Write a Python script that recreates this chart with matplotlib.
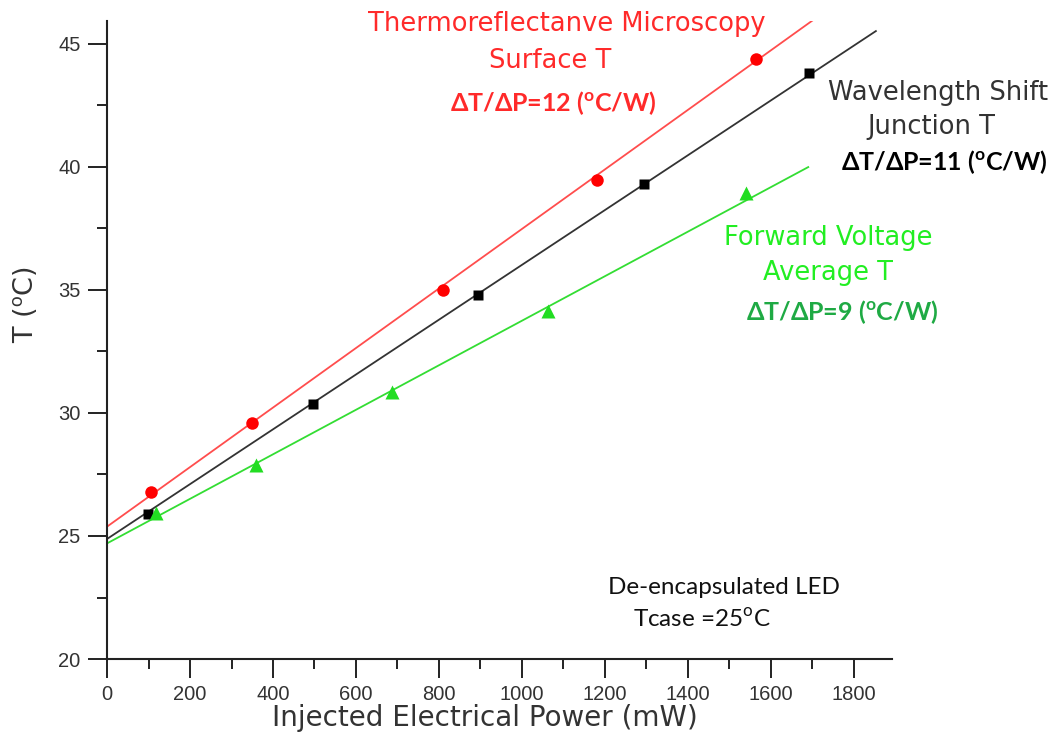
import matplotlib
matplotlib.use("Agg")
import matplotlib.pyplot as plt
import numpy as np

plt.rcParams['mathtext.fontset'] = 'custom'
plt.rcParams['mathtext.rm'] = 'Lato'
plt.rcParams['mathtext.bf'] = 'Lato:bold'

# Measured temperatures vs injected electrical power
tr_power = [105, 350, 810, 1180, 1565]
tr_temp = [26.8, 29.6, 35.0, 39.45, 44.4]

wl_power = [98, 496, 895, 1295, 1692]
wl_temp = [25.9, 30.35, 34.8, 39.3, 43.8]

fv_power = [118, 359, 688, 1062, 1540]
fv_temp = [25.95, 27.9, 30.85, 34.15, 38.95]

# Linear trend lines: intercept (°C), slope (°C/mW), end of drawn line (mW)
tr_fit = (25.38, 0.0121, 1700)
wl_fit = (24.88, 0.01114, 1853)
fv_fit = (24.70, 0.00905, 1690)

x_ticks = [0, 200, 400, 600, 800, 1000, 1200, 1400, 1600, 1800]
y_ticks = [20, 25, 30, 35, 40, 45]

RED = '#ff2a2a'
GREEN = '#22ee22'
GREEN_TXT = '#1faa44'
GRAY = '#333333'

fig = plt.figure(figsize=(10.64, 7.36), dpi=100)
ax = fig.add_axes([0.1006, 0.1046, 0.7378, 0.8668])

def trend(ax, fit, color):
    b, m, xe = fit
    xs = np.array([0, xe])
    ax.plot(xs, b + m * xs, color=color, lw=1.3, zorder=2)

trend(ax, tr_fit, '#ff4d4d')
trend(ax, wl_fit, '#333333')
trend(ax, fv_fit, '#33dd33')

ax.plot(tr_power, tr_temp, 'o', color='#ff0000', ms=9, mec='none', zorder=3)
ax.plot(wl_power, wl_temp, 's', color='#000000', ms=7.5, mec='none', zorder=3)
ax.plot(fv_power, fv_temp, '^', color='#22dd22', ms=10.5, mec='none', zorder=3)

ax.set_xlim(0, 1892)
ax.set_ylim(20, 45.93)
ax.set_xticks(x_ticks)
ax.set_yticks(y_ticks)
ax.set_xticks(np.arange(100, 1900, 200), minor=True)
ax.set_yticks(np.arange(22.5, 45, 5), minor=True)

for s in ['top', 'right']:
    ax.spines[s].set_visible(False)
for s in ['left', 'bottom']:
    ax.spines[s].set_linewidth(1.5)
    ax.spines[s].set_color('#222222')

ax.tick_params(which='major', direction='out', length=14, width=1.4, color='#222222',
               labelsize=14.5, labelcolor='#333333', pad=5)
ax.tick_params(which='minor', direction='out', length=7, width=1.4, color='#222222')
for lab in ax.get_xticklabels() + ax.get_yticklabels():
    lab.set_family('Liberation Sans')

ax.set_xlabel('Injected Electrical Power (mW)', fontsize=20, family='DejaVu Sans',
              color=GRAY)
ax.xaxis.set_label_coords(0.481, -0.0925, transform=ax.transAxes)
ax.xaxis.label.set_va('center')
ax.set_ylabel('T ($^{\\rm o}$C)', fontsize=19.5, family='DejaVu Sans', color=GRAY)
ax.yaxis.set_label_coords(-0.085, 0.555)

def ftext(x, y, s, **kw):
    fig.text(x / 1064, 1 - y / 736, s, ha='center', va='center', **kw)

ftext(567, 24, 'Thermoreflectanve Microscopy', fontsize=18.5, color=RED, family='DejaVu Sans')
ftext(550, 61, 'Surface T', fontsize=18.5, color=RED, family='DejaVu Sans')
ftext(553, 103, r'ΔT/ΔP=12 ($\mathbf{^o}$C/W)', fontsize=18, color=RED,
      family='Lato', fontweight='bold')

ftext(938, 93, 'Wavelength Shift', fontsize=18.5, color=GRAY, family='DejaVu Sans')
ftext(931, 127, 'Junction T', fontsize=18.5, color=GRAY, family='DejaVu Sans')
ftext(944, 162, r'ΔT/ΔP=11 ($\mathbf{^o}$C/W)', fontsize=18, color='#000000',
      family='Lato', fontweight='bold')

ftext(828, 238, 'Forward Voltage', fontsize=18.5, color=GREEN, family='DejaVu Sans')
ftext(828, 273, 'Average T', fontsize=18.5, color=GREEN, family='DejaVu Sans')
ftext(842, 312, r'ΔT/ΔP=9 ($\mathbf{^o}$C/W)', fontsize=18, color=GREEN_TXT,
      family='Lato', fontweight='bold')

ftext(724, 587, 'De-encapsulated LED', fontsize=17.5, color='#111111', family='Lato')
ftext(702, 620, r'Tcase =25$^{\rm o}$C', fontsize=17.5, color='#111111', family='Lato')

fig.savefig('out.png', dpi=100, facecolor='white')
